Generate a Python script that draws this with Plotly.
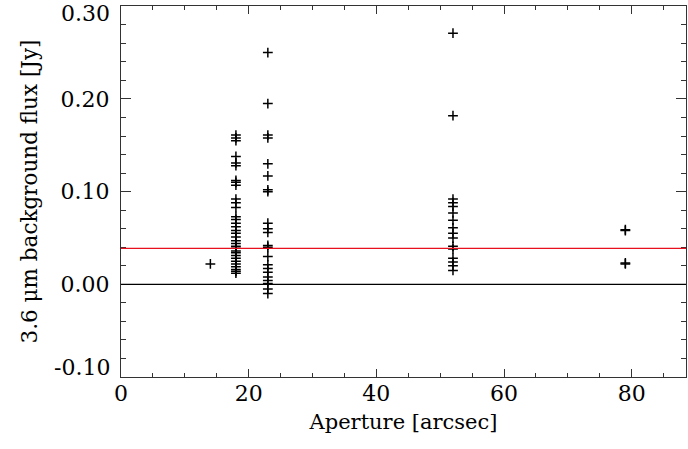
import plotly.graph_objects as go

# Data
apertures = [14, 18, 23, 52, 79]
flux_14 = [0.022]
flux_18 = [0.161, 0.158, 0.155, 0.138, 0.131, 0.128, 0.112, 0.110, 0.107,
           0.092, 0.088, 0.083, 0.073, 0.070, 0.066, 0.062, 0.058, 0.055,
           0.051, 0.047, 0.044, 0.041, 0.039, 0.036, 0.034, 0.031, 0.028,
           0.025, 0.022, 0.019, 0.016, 0.014, 0.012]
flux_23 = [0.250, 0.195, 0.161, 0.158, 0.130, 0.117, 0.102, 0.100, 0.066,
           0.060, 0.056, 0.042, 0.040, 0.030, 0.021, 0.017, 0.013, 0.008,
           0.004, 0.001, -0.005, -0.010]
flux_52 = [0.271, 0.182, 0.092, 0.088, 0.084, 0.077, 0.069, 0.061, 0.055,
           0.050, 0.041, 0.038, 0.028, 0.024, 0.020, 0.015]
flux_79 = [0.059, 0.058, 0.023, 0.022]
mean_flux = 0.0388
zero_level = 0.0

x_ticks = [0, 20, 40, 60, 80]
y_ticks = [-0.10, 0.00, 0.10, 0.20, 0.30]
y_tick_labels = ["-0.10", "0.00", "0.10", "0.20", "0.30"]

groups = [flux_14, flux_18, flux_23, flux_52, flux_79]
xs, ys = [], []
for a, g in zip(apertures, groups):
    xs += [a] * len(g)
    ys += g

font_family = "DejaVu Serif"
axis_col = "#333333"
tick_font = dict(family=font_family, size=22, color="black")

fig = go.Figure()
fig.add_trace(go.Scatter(
    x=xs, y=ys, mode="markers",
    marker=dict(symbol="cross-thin", size=7, line=dict(color="black", width=1.5)),
    showlegend=False, hoverinfo="skip",
))

fig.add_shape(type="line", xref="paper", x0=0, x1=1, yref="y", y0=mean_flux, y1=mean_flux,
              line=dict(color="#e8101c", width=1.2))
fig.add_shape(type="line", xref="paper", x0=0, x1=1, yref="y", y0=zero_level, y1=zero_level,
              line=dict(color="black", width=1.2))

axis_common = dict(
    showgrid=False, zeroline=False, showline=True, linecolor=axis_col, linewidth=1.2,
    mirror="allticks", ticks="inside", tickcolor=axis_col, tickwidth=1,
    tickfont=tick_font, automargin=False, ticklabeloverflow="allow",
)

# end labels of the y axis are drawn slightly inward (as in the original)
y_text = [t if 0 < i < len(y_ticks) - 1 else "" for i, t in enumerate(y_tick_labels)]
end_shift = {0: 9.5, len(y_ticks) - 1: -7}
for i, s in end_shift.items():
    fig.add_annotation(x=0, xref="paper", y=y_ticks[i], yref="y", text=y_tick_labels[i],
                       showarrow=False, xanchor="right", yanchor="middle",
                       xshift=-9, yshift=s, font=tick_font)

fig.update_xaxes(
    range=[0, 88.5], tickvals=x_ticks, ticktext=[str(v) for v in x_ticks],
    ticklen=8, minor=dict(dtick=5, ticklen=4, ticks="inside", tickcolor=axis_col),
    ticklabelstandoff=-4,
    title=dict(text="Aperture [arcsec]", font=dict(family=font_family, size=21, color="black"), standoff=9),
    **axis_common,
)
fig.update_yaxes(
    range=[-0.1, 0.3003], tickvals=y_ticks, ticktext=y_text,
    ticklen=10, minor=dict(dtick=0.02, ticklen=5, ticks="inside", tickcolor=axis_col),
    ticklabelstandoff=6,
    title=dict(text="3.6 μm background flux [Jy]", font=dict(family=font_family, size=21.5, color="black"), standoff=16),
    **axis_common,
)

fig.update_layout(
    width=688, height=449,
    margin=dict(l=121, r=2, t=6, b=72, pad=0),
    plot_bgcolor="white", paper_bgcolor="white",
)

fig.write_html("out.html", config={"displayModeBar": False},
               post_script="document.body.style.margin='0';")
